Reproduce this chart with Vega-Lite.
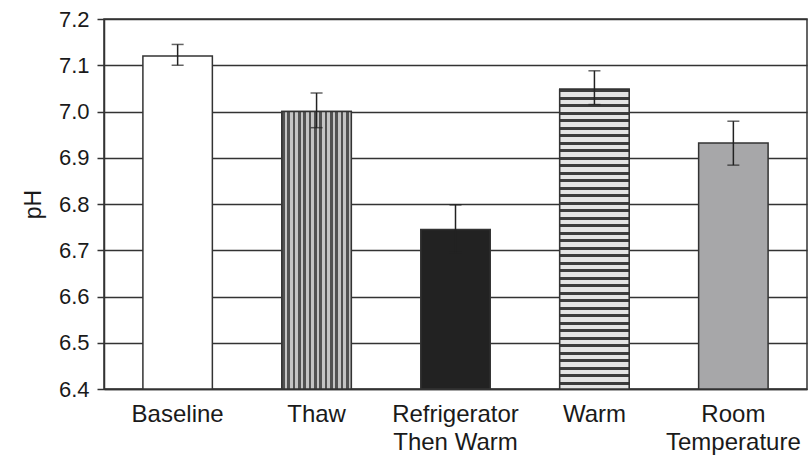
{
  "$schema": "https://vega.github.io/schema/vega-lite/v6.json",
  "autosize": "none",
  "padding": {"left": 104, "top": 19, "right": 1, "bottom": 72},
  "width": 703,
  "height": 370,
  "background": "white",
  "config": {
    "font": "Liberation Sans",
    "view": {"stroke": "#333", "strokeWidth": 1.5}
  },
  "data": {"values": [
    {"group": "Baseline", "pH": 7.12, "lo": 7.10, "hi": 7.145},
    {"group": "Thaw", "pH": 7.00, "lo": 6.965, "hi": 7.04},
    {"group": "Refrigerator Then Warm", "pH": 6.745, "lo": 6.695, "hi": 6.798},
    {"group": "Warm", "pH": 7.048, "lo": 7.015, "hi": 7.088},
    {"group": "Room Temperature", "pH": 6.932, "lo": 6.884, "hi": 6.979}
  ]},
  "encoding": {
    "x": {
      "field": "group", "type": "nominal", "sort": null,
      "scale": {"paddingInner": 0.5, "paddingOuter": 0.28},
      "axis": {
        "title": null, "labelAngle": 0, "ticks": false, "labelPadding": 13,
        "labelFontSize": 24, "labelLineHeight": 28, "labelColor": "#1a1a1a",
        "labelBaseline": "top", "domainColor": "#333", "domainWidth": 1.5,
        "labelExpr": "datum.value == 'Refrigerator Then Warm' ? ['Refrigerator', 'Then Warm'] : datum.value == 'Room Temperature' ? ['Room', 'Temperature'] : datum.value"
      }
    }
  },
  "layer": [
    {
      "mark": {"type": "bar", "stroke": "#333", "strokeWidth": 1.5},
      "encoding": {
        "y": {
          "field": "pH", "type": "quantitative",
          "scale": {"domain": [6.4, 7.2], "zero": false, "nice": false},
          "axis": {
            "title": "pH", "titleFontSize": 23, "titleFontWeight": "normal", "titleColor": "#1a1a1a",
            "titlePadding": 13,
            "values": [6.4, 6.5, 6.6, 6.7, 6.8, 6.9, 7.0, 7.1, 7.2], "format": ".1f",
            "labelFontSize": 22, "labelColor": "#1a1a1a", "labelPadding": 8,
            "tickSize": 7, "tickColor": "#333", "tickWidth": 1.5,
            "domainColor": "#333", "domainWidth": 1.5,
            "grid": true, "gridColor": "#333", "gridWidth": 1.3, "gridOpacity": 1
          }
        },
        "y2": {"datum": 6.4},
        "fill": {
          "field": "group", "type": "nominal",
          "scale": {
            "domain": ["Baseline", "Thaw", "Refrigerator Then Warm", "Warm", "Room Temperature"],
            "range": ["#ffffff", "#999999", "#222222", "#999999", "#a7a7a9"]
          },
          "legend": null
        }
      }
    },
    {
      "transform": [{"filter": "datum.group == 'Thaw'"}],
      "mark": {"type": "bar", "stroke": "#333", "strokeWidth": 1.5,
        "fill": {"gradient": "linear", "x1": 0, "y1": 0, "x2": 1, "y2": 0, "stops": [
          {"offset": 0, "color": "#525252"}, {"offset": 0.0385, "color": "#525252"}, {"offset": 0.0385, "color": "#c4c4c4"}, {"offset": 0.0769, "color": "#c4c4c4"},
          {"offset": 0.0769, "color": "#525252"}, {"offset": 0.1154, "color": "#525252"}, {"offset": 0.1154, "color": "#c4c4c4"}, {"offset": 0.1538, "color": "#c4c4c4"},
          {"offset": 0.1538, "color": "#525252"}, {"offset": 0.1923, "color": "#525252"}, {"offset": 0.1923, "color": "#c4c4c4"}, {"offset": 0.2308, "color": "#c4c4c4"},
          {"offset": 0.2308, "color": "#525252"}, {"offset": 0.2692, "color": "#525252"}, {"offset": 0.2692, "color": "#c4c4c4"}, {"offset": 0.3077, "color": "#c4c4c4"},
          {"offset": 0.3077, "color": "#525252"}, {"offset": 0.3462, "color": "#525252"}, {"offset": 0.3462, "color": "#c4c4c4"}, {"offset": 0.3846, "color": "#c4c4c4"},
          {"offset": 0.3846, "color": "#525252"}, {"offset": 0.4231, "color": "#525252"}, {"offset": 0.4231, "color": "#c4c4c4"}, {"offset": 0.4615, "color": "#c4c4c4"},
          {"offset": 0.4615, "color": "#525252"}, {"offset": 0.5, "color": "#525252"}, {"offset": 0.5, "color": "#c4c4c4"}, {"offset": 0.5385, "color": "#c4c4c4"},
          {"offset": 0.5385, "color": "#525252"}, {"offset": 0.5769, "color": "#525252"}, {"offset": 0.5769, "color": "#c4c4c4"}, {"offset": 0.6154, "color": "#c4c4c4"},
          {"offset": 0.6154, "color": "#525252"}, {"offset": 0.6538, "color": "#525252"}, {"offset": 0.6538, "color": "#c4c4c4"}, {"offset": 0.6923, "color": "#c4c4c4"},
          {"offset": 0.6923, "color": "#525252"}, {"offset": 0.7308, "color": "#525252"}, {"offset": 0.7308, "color": "#c4c4c4"}, {"offset": 0.7692, "color": "#c4c4c4"},
          {"offset": 0.7692, "color": "#525252"}, {"offset": 0.8077, "color": "#525252"}, {"offset": 0.8077, "color": "#c4c4c4"}, {"offset": 0.8462, "color": "#c4c4c4"},
          {"offset": 0.8462, "color": "#525252"}, {"offset": 0.8846, "color": "#525252"}, {"offset": 0.8846, "color": "#c4c4c4"}, {"offset": 0.9231, "color": "#c4c4c4"},
          {"offset": 0.9231, "color": "#525252"}, {"offset": 0.9615, "color": "#525252"}, {"offset": 0.9615, "color": "#c4c4c4"}, {"offset": 1, "color": "#c4c4c4"}
        ]}
      },
      "encoding": {
        "y": {"field": "pH", "type": "quantitative"},
        "y2": {"datum": 6.4}
      }
    },
    {
      "transform": [{"filter": "datum.group == 'Warm'"}],
      "mark": {"type": "bar", "stroke": "#333", "strokeWidth": 1.5,
        "fill": {"gradient": "linear", "x1": 0, "y1": 0, "x2": 0, "y2": 1, "stops": [
          {"offset": 0, "color": "#3c3c3c"}, {"offset": 0.01, "color": "#3c3c3c"}, {"offset": 0.01, "color": "#e4e4e4"}, {"offset": 0.025, "color": "#e4e4e4"},
          {"offset": 0.025, "color": "#3c3c3c"}, {"offset": 0.035, "color": "#3c3c3c"}, {"offset": 0.035, "color": "#e4e4e4"}, {"offset": 0.05, "color": "#e4e4e4"},
          {"offset": 0.05, "color": "#3c3c3c"}, {"offset": 0.06, "color": "#3c3c3c"}, {"offset": 0.06, "color": "#e4e4e4"}, {"offset": 0.075, "color": "#e4e4e4"},
          {"offset": 0.075, "color": "#3c3c3c"}, {"offset": 0.085, "color": "#3c3c3c"}, {"offset": 0.085, "color": "#e4e4e4"}, {"offset": 0.1, "color": "#e4e4e4"},
          {"offset": 0.1, "color": "#3c3c3c"}, {"offset": 0.11, "color": "#3c3c3c"}, {"offset": 0.11, "color": "#e4e4e4"}, {"offset": 0.125, "color": "#e4e4e4"},
          {"offset": 0.125, "color": "#3c3c3c"}, {"offset": 0.135, "color": "#3c3c3c"}, {"offset": 0.135, "color": "#e4e4e4"}, {"offset": 0.15, "color": "#e4e4e4"},
          {"offset": 0.15, "color": "#3c3c3c"}, {"offset": 0.16, "color": "#3c3c3c"}, {"offset": 0.16, "color": "#e4e4e4"}, {"offset": 0.175, "color": "#e4e4e4"},
          {"offset": 0.175, "color": "#3c3c3c"}, {"offset": 0.185, "color": "#3c3c3c"}, {"offset": 0.185, "color": "#e4e4e4"}, {"offset": 0.2, "color": "#e4e4e4"},
          {"offset": 0.2, "color": "#3c3c3c"}, {"offset": 0.21, "color": "#3c3c3c"}, {"offset": 0.21, "color": "#e4e4e4"}, {"offset": 0.225, "color": "#e4e4e4"},
          {"offset": 0.225, "color": "#3c3c3c"}, {"offset": 0.235, "color": "#3c3c3c"}, {"offset": 0.235, "color": "#e4e4e4"}, {"offset": 0.25, "color": "#e4e4e4"},
          {"offset": 0.25, "color": "#3c3c3c"}, {"offset": 0.26, "color": "#3c3c3c"}, {"offset": 0.26, "color": "#e4e4e4"}, {"offset": 0.275, "color": "#e4e4e4"},
          {"offset": 0.275, "color": "#3c3c3c"}, {"offset": 0.285, "color": "#3c3c3c"}, {"offset": 0.285, "color": "#e4e4e4"}, {"offset": 0.3, "color": "#e4e4e4"},
          {"offset": 0.3, "color": "#3c3c3c"}, {"offset": 0.31, "color": "#3c3c3c"}, {"offset": 0.31, "color": "#e4e4e4"}, {"offset": 0.325, "color": "#e4e4e4"},
          {"offset": 0.325, "color": "#3c3c3c"}, {"offset": 0.335, "color": "#3c3c3c"}, {"offset": 0.335, "color": "#e4e4e4"}, {"offset": 0.35, "color": "#e4e4e4"},
          {"offset": 0.35, "color": "#3c3c3c"}, {"offset": 0.36, "color": "#3c3c3c"}, {"offset": 0.36, "color": "#e4e4e4"}, {"offset": 0.375, "color": "#e4e4e4"},
          {"offset": 0.375, "color": "#3c3c3c"}, {"offset": 0.385, "color": "#3c3c3c"}, {"offset": 0.385, "color": "#e4e4e4"}, {"offset": 0.4, "color": "#e4e4e4"},
          {"offset": 0.4, "color": "#3c3c3c"}, {"offset": 0.41, "color": "#3c3c3c"}, {"offset": 0.41, "color": "#e4e4e4"}, {"offset": 0.425, "color": "#e4e4e4"},
          {"offset": 0.425, "color": "#3c3c3c"}, {"offset": 0.435, "color": "#3c3c3c"}, {"offset": 0.435, "color": "#e4e4e4"}, {"offset": 0.45, "color": "#e4e4e4"},
          {"offset": 0.45, "color": "#3c3c3c"}, {"offset": 0.46, "color": "#3c3c3c"}, {"offset": 0.46, "color": "#e4e4e4"}, {"offset": 0.475, "color": "#e4e4e4"},
          {"offset": 0.475, "color": "#3c3c3c"}, {"offset": 0.485, "color": "#3c3c3c"}, {"offset": 0.485, "color": "#e4e4e4"}, {"offset": 0.5, "color": "#e4e4e4"},
          {"offset": 0.5, "color": "#3c3c3c"}, {"offset": 0.51, "color": "#3c3c3c"}, {"offset": 0.51, "color": "#e4e4e4"}, {"offset": 0.525, "color": "#e4e4e4"},
          {"offset": 0.525, "color": "#3c3c3c"}, {"offset": 0.535, "color": "#3c3c3c"}, {"offset": 0.535, "color": "#e4e4e4"}, {"offset": 0.55, "color": "#e4e4e4"},
          {"offset": 0.55, "color": "#3c3c3c"}, {"offset": 0.56, "color": "#3c3c3c"}, {"offset": 0.56, "color": "#e4e4e4"}, {"offset": 0.575, "color": "#e4e4e4"},
          {"offset": 0.575, "color": "#3c3c3c"}, {"offset": 0.585, "color": "#3c3c3c"}, {"offset": 0.585, "color": "#e4e4e4"}, {"offset": 0.6, "color": "#e4e4e4"},
          {"offset": 0.6, "color": "#3c3c3c"}, {"offset": 0.61, "color": "#3c3c3c"}, {"offset": 0.61, "color": "#e4e4e4"}, {"offset": 0.625, "color": "#e4e4e4"},
          {"offset": 0.625, "color": "#3c3c3c"}, {"offset": 0.635, "color": "#3c3c3c"}, {"offset": 0.635, "color": "#e4e4e4"}, {"offset": 0.65, "color": "#e4e4e4"},
          {"offset": 0.65, "color": "#3c3c3c"}, {"offset": 0.66, "color": "#3c3c3c"}, {"offset": 0.66, "color": "#e4e4e4"}, {"offset": 0.675, "color": "#e4e4e4"},
          {"offset": 0.675, "color": "#3c3c3c"}, {"offset": 0.685, "color": "#3c3c3c"}, {"offset": 0.685, "color": "#e4e4e4"}, {"offset": 0.7, "color": "#e4e4e4"},
          {"offset": 0.7, "color": "#3c3c3c"}, {"offset": 0.71, "color": "#3c3c3c"}, {"offset": 0.71, "color": "#e4e4e4"}, {"offset": 0.725, "color": "#e4e4e4"},
          {"offset": 0.725, "color": "#3c3c3c"}, {"offset": 0.735, "color": "#3c3c3c"}, {"offset": 0.735, "color": "#e4e4e4"}, {"offset": 0.75, "color": "#e4e4e4"},
          {"offset": 0.75, "color": "#3c3c3c"}, {"offset": 0.76, "color": "#3c3c3c"}, {"offset": 0.76, "color": "#e4e4e4"}, {"offset": 0.775, "color": "#e4e4e4"},
          {"offset": 0.775, "color": "#3c3c3c"}, {"offset": 0.785, "color": "#3c3c3c"}, {"offset": 0.785, "color": "#e4e4e4"}, {"offset": 0.8, "color": "#e4e4e4"},
          {"offset": 0.8, "color": "#3c3c3c"}, {"offset": 0.81, "color": "#3c3c3c"}, {"offset": 0.81, "color": "#e4e4e4"}, {"offset": 0.825, "color": "#e4e4e4"},
          {"offset": 0.825, "color": "#3c3c3c"}, {"offset": 0.835, "color": "#3c3c3c"}, {"offset": 0.835, "color": "#e4e4e4"}, {"offset": 0.85, "color": "#e4e4e4"},
          {"offset": 0.85, "color": "#3c3c3c"}, {"offset": 0.86, "color": "#3c3c3c"}, {"offset": 0.86, "color": "#e4e4e4"}, {"offset": 0.875, "color": "#e4e4e4"},
          {"offset": 0.875, "color": "#3c3c3c"}, {"offset": 0.885, "color": "#3c3c3c"}, {"offset": 0.885, "color": "#e4e4e4"}, {"offset": 0.9, "color": "#e4e4e4"},
          {"offset": 0.9, "color": "#3c3c3c"}, {"offset": 0.91, "color": "#3c3c3c"}, {"offset": 0.91, "color": "#e4e4e4"}, {"offset": 0.925, "color": "#e4e4e4"},
          {"offset": 0.925, "color": "#3c3c3c"}, {"offset": 0.935, "color": "#3c3c3c"}, {"offset": 0.935, "color": "#e4e4e4"}, {"offset": 0.95, "color": "#e4e4e4"},
          {"offset": 0.95, "color": "#3c3c3c"}, {"offset": 0.96, "color": "#3c3c3c"}, {"offset": 0.96, "color": "#e4e4e4"}, {"offset": 0.975, "color": "#e4e4e4"},
          {"offset": 0.975, "color": "#3c3c3c"}, {"offset": 0.985, "color": "#3c3c3c"}, {"offset": 0.985, "color": "#e4e4e4"}, {"offset": 1, "color": "#e4e4e4"}
        ]}
      },
      "encoding": {
        "y": {"field": "pH", "type": "quantitative"},
        "y2": {"datum": 6.4}
      }
    },
    {
      "mark": {"type": "rule", "color": "#222", "strokeWidth": 1.5},
      "encoding": {
        "y": {"field": "lo", "type": "quantitative"},
        "y2": {"field": "hi"}
      }
    },
    {
      "mark": {"type": "tick", "color": "#222", "size": 12, "thickness": 1.5},
      "encoding": {"y": {"field": "lo", "type": "quantitative"}}
    },
    {
      "mark": {"type": "tick", "color": "#222", "size": 12, "thickness": 1.5},
      "encoding": {"y": {"field": "hi", "type": "quantitative"}}
    }
  ]
}
